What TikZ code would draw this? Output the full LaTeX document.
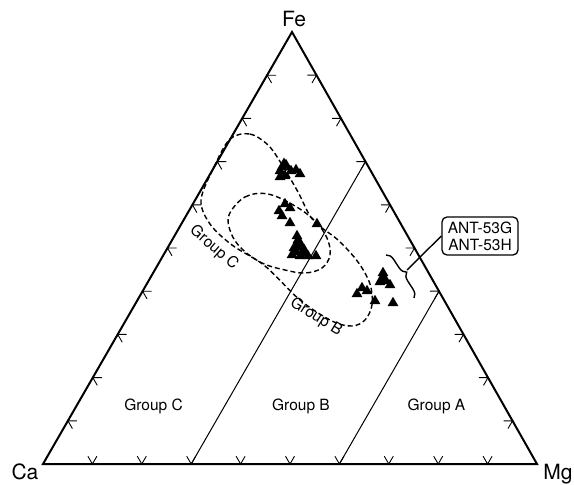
\documentclass[tikz,border=0pt]{standalone}
\usepackage{fontspec}
\setmainfont{TeX Gyre Heros}
\usetikzlibrary{calc,shapes.geometric,decorations.pathreplacing}
\begin{document}
\begin{tikzpicture}[x=1pt,y=1pt,
  edge/.style={line width=2pt},
  gridline/.style={line width=1pt},
  tickmark/.style={line width=0.9pt},
  field/.style={line width=1.4pt, dash pattern=on 5pt off 3pt},
  vlab/.style={font=\fontsize{21}{21}\selectfont, inner sep=0pt, anchor=base},
  glab/.style={font=\fontsize{15.5}{16}\selectfont, inner sep=0pt},
  tri/.style={regular polygon, regular polygon sides=3, fill=black, draw=none, inner sep=0pt, minimum size=12.5pt},
  bigtri/.style={tri, minimum size=17pt},
]
\useasboundingbox (0,0) rectangle (574,-485);
\coordinate (Ca) at (43,-464);
\coordinate (Mg) at (537,-464);
\coordinate (Fe) at (292,-32);

% outer triangle
\draw[edge] (Ca) -- (Mg) -- (Fe) -- cycle;

% ticks
\foreach \k in {1,...,9}{
  \pgfmathsetmacro\f{\k/10}
  \coordinate (b) at ($(Ca)!\f!(Mg)$);
  \draw[tickmark] ($(b)+(60:9)$) -- (b) -- ($(b)+(120:9)$);
  \coordinate (l) at ($(Ca)!\f!(Fe)$);
  \draw[tickmark] ($(l)+(0:9)$) -- (l) -- ($(l)+(-60:9)$);
  \coordinate (r) at ($(Fe)!\f!(Mg)$);
  \draw[tickmark] ($(r)+(180:9)$) -- (r) -- ($(r)+(240:9)$);
}

% group boundaries
\coordinate (g1b) at ($(Ca)!0.3!(Mg)$);
\coordinate (g1t) at ($(Fe)!0.3!(Mg)$);
\coordinate (g2b) at ($(Ca)!0.6!(Mg)$);
\coordinate (g2t) at ($(Fe)!0.6!(Mg)$);
\draw[gridline] (g1b) -- (g1t);
\draw[gridline] (g2b) -- (g2t);

% vertex labels
\node[vlab] (feL) at (294,-26.5) {Fe};
\node[vlab] (caL) at (25,-479) {Ca};
\node[vlab] (mgL) at (558,-479) {Mg};

% field labels
\node[glab, anchor=base] (gc) at (153.5,-410.5) {Group C};
\node[glab, anchor=base] (gb) at (301,-410.5) {Group B};
\node[glab, anchor=base] (ga) at (436.5,-410.5) {Group A};
\node[glab, rotate=-41] (gcr) at (214,-248) {Group C};
\node[glab, rotate=-32] (gbr) at (316,-317) {Group B};

% dashed fields
\draw[field] plot[smooth cycle, tension=0.55] coordinates {
  (230,-139) (250,-134) (268,-145) (281,-163) (298,-192) (313,-220)
  (338,-240) (358,-262) (370,-284) (372,-305) (365,-320) (352,-326)
  (332,-321) (300,-300) (265,-266) (232,-245) (210,-224) (201,-200)
  (214,-167)};
\draw[field] plot[smooth cycle, tension=0.6] coordinates {
  (229,-215) (245,-197) (268,-194) (295,-206) (315,-221) (327,-238)
  (330,-255) (322,-268) (305,-273) (285,-270) (262,-263) (242,-249)
  (231,-233)};

% data points
\foreach \x/\y [count=\i] in {
  280/171, 286/165, 291/171, 285/176, 300/174, 296/170, 280/177,
  279/211, 285/204, 290/208, 282/216, 290/223, 317/224,
  298/240, 294/248, 301/245, 292/255, 300/256, 308/256, 316/256, 304/250, 297/236, 296/252,
  362/288, 357/294, 367/291, 375/301, 383/273, 380/282, 386/281, 390/285, 393/303}
  \node[tri] (t\i) at (\x,-\y) {};
\foreach \x/\y [count=\i] in {284/166, 298/246, 304/252, 383/279}
  \node[bigtri] (bt\i) at (\x,-\y) {};

% ANT label
\node[draw, line width=1.3pt, rounded corners=5pt, align=center, inner sep=0pt,
      minimum width=76pt, minimum height=38pt,
      font=\fontsize{15.5}{16.7}\selectfont] (ant) at (480,-236) {ANT-53G\\ANT-53H};
\draw[line width=1.4pt, decorate, decoration={brace, amplitude=8pt}] (386,-255) -- (414,-298);
\coordinate (tip) at (407,-270);
\draw[line width=1.4pt] (tip) -- (ant.west);
\end{tikzpicture}
\end{document}
